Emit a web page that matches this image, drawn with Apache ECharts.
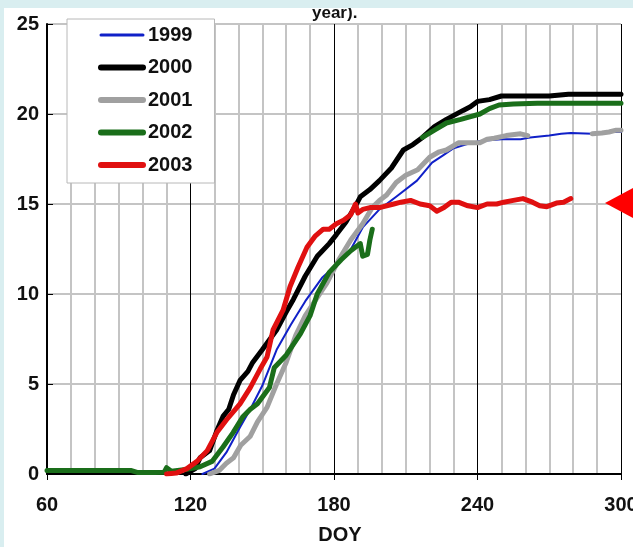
<!DOCTYPE html>
<html>
<head>
<meta charset="utf-8">
<script src="https://cdn.jsdelivr.net/npm/echarts@6/dist/echarts.min.js"></script>
<style>
    html, body {margin: 0; padding: 0; background: #ffffff;}
    #chart-doy {width: 633px; height: 547px;}
</style>
</head>
<body>
<div id="chart-doy"></div>
<script>
// 年份
var years = ['1999', '2000', '2001', '2002', '2003'];
var colors = ['#1020c8', '#000000', '#a0a0a0', '#1a6e1a', '#e01010'];

// 刻度
var xTicks = [60, 120, 180, 240, 300];
var yTicks = [0, 5, 10, 15, 20, 25];

// 1999
var doy1999 = [125, 130, 135, 140.7, 145, 150, 156, 162, 168, 175, 180, 186.7, 192, 199, 206, 214.7, 221, 225.6, 230, 235, 241, 250, 258, 262, 270, 275, 279, 288, 295, 300];
var val1999 = [0, 0.3, 1.2, 2.6, 3.6, 4.9, 6.9, 8.3, 9.6, 10.9, 11.5, 12.4, 13.7, 14.7, 15.4, 16.3, 17.3, 17.7, 18.1, 18.3, 18.5, 18.6, 18.6, 18.7, 18.8, 18.9, 18.95, 18.9, 19.0, 19.0];

// 2000
var doy2000 = [118, 122, 124, 128, 131, 133.6, 136, 138, 140.7, 144, 146, 150, 156, 160, 163, 168, 173, 178, 181, 185, 189, 191, 195, 199, 204, 209, 213, 217, 222, 227, 234, 237, 240, 245, 250, 260, 270, 278, 290, 300];
var val2000 = [0, 0.3, 0.9, 1.3, 2.4, 3.2, 3.6, 4.4, 5.2, 5.7, 6.2, 6.9, 8.0, 9.0, 9.7, 11.0, 12.1, 12.8, 13.3, 14.0, 14.9, 15.4, 15.8, 16.3, 17.0, 18.0, 18.3, 18.7, 19.3, 19.7, 20.2, 20.4, 20.7, 20.8, 21.0, 21.0, 21.0, 21.1, 21.1, 21.1];

// 2001 (270 附近缺测)
var doy2001 = [128, 132, 135, 138, 141, 145, 148, 152, 156, 160, 164, 168, 172, 177, 182, 187, 192, 196, 199, 202, 206, 210, 215, 220, 224, 227, 232, 236, 241, 244, 247, 252, 258, 261, 270, 288, 292, 295, 298, 300];
var val2001 = [0, 0.2, 0.6, 0.9, 1.6, 2.1, 2.9, 3.7, 5.0, 6.2, 7.7, 8.8, 9.6, 10.6, 11.9, 13.0, 13.9, 14.8, 15.2, 15.5, 16.2, 16.6, 16.9, 17.6, 17.9, 18.0, 18.4, 18.4, 18.4, 18.6, 18.65, 18.8, 18.9, 18.8, null, 18.9, 18.95, 19.0, 19.1, 19.1];

// 2002 (200-215 缺测)
var doy2002 = [60, 70, 80, 90, 95, 98, 105, 109, 110, 112, 118, 124, 129, 133.6, 137.8, 142, 145, 148, 153, 155, 160, 166, 170, 173, 178, 183, 187, 191, 192, 194, 195, 196, 205, 217, 222, 227, 233, 241, 245, 249, 255, 265, 280, 300];
var val2002 = [0.2, 0.2, 0.2, 0.2, 0.2, 0.08, 0.08, 0.1, 0.35, 0.15, 0.25, 0.4, 0.7, 1.5, 2.3, 3.2, 3.6, 3.9, 4.8, 5.9, 6.6, 7.8, 8.8, 10.0, 11.2, 11.9, 12.4, 12.8, 12.1, 12.2, 13.0, 13.6, null, 18.7, 19.1, 19.5, 19.7, 20.0, 20.3, 20.5, 20.55, 20.6, 20.6, 20.6];

// 2003
var doy2003 = [110, 114, 118.5, 122.7, 127, 131, 135, 140.7, 145, 149, 152, 154.5, 158.7, 161.6, 165, 168.7, 172, 175.5, 178, 181, 184, 187, 189, 190, 192, 195, 199, 205, 208, 212, 216, 220, 223, 226, 229, 232, 236, 240, 244, 248, 251, 255, 259, 263, 266, 269, 273, 276, 279];
var val2003 = [0, 0.05, 0.3, 0.7, 1.3, 2.3, 3.0, 3.9, 4.8, 5.8, 6.5, 8.0, 9.1, 10.4, 11.5, 12.6, 13.2, 13.6, 13.6, 13.9, 14.1, 14.4, 15.0, 14.5, 14.7, 14.8, 14.8, 15.0, 15.1, 15.2, 15.0, 14.9, 14.6, 14.8, 15.1, 15.1, 14.9, 14.8, 15.0, 15.0, 15.1, 15.2, 15.3, 15.1, 14.9, 14.85, 15.05, 15.1, 15.3];

var allDoy = [doy1999, doy2000, doy2001, doy2002, doy2003];
var allVal = [val1999, val2000, val2001, val2002, val2003];
var widths = [2, 5, 5, 5, 5];

function pairs(xs, ys) {
    var out = [];
    for (var i = 0; i < xs.length; i++) {
        out.push([xs[i], ys[i]]);
    }
    return out;
}

var fontName = '"Liberation Sans", Arial, sans-serif';

var series = [];
var legendData = [];
for (var k = 0; k < years.length; k++) {
    series.push({
        name: years[k],
        type: 'line',
        data: pairs(allDoy[k], allVal[k]),
        showSymbol: false,
        symbol: 'none',
        connectNulls: false,
        animation: false,
        itemStyle: {color: colors[k]},
        lineStyle: {color: colors[k], width: widths[k], join: 'round', cap: 'round'}
    });
    legendData.push({
        name: years[k],
        itemStyle: {opacity: 0},
        lineStyle: {color: colors[k], width: widths[k] + 1}
    });
}

var myChart = echarts.init(document.getElementById('chart-doy'));
var option = {
    animation: false,
    backgroundColor: '#ffffff',
    grid: {left: 47, right: 12, top: 24, bottom: 73, outerBoundsMode: 'none', containLabel: false},
    legend: {
        data: legendData,
        orient: 'vertical',
        left: 67,
        top: 19,
        padding: [6, 22, 8, 31],
        itemGap: 12.5,
        itemWidth: 42,
        itemHeight: 14,
        backgroundColor: '#ffffff',
        borderColor: '#b8b8b8',
        borderWidth: 1,
        borderRadius: 0,
        textStyle: {fontFamily: fontName, fontSize: 20, fontWeight: 'bold', color: '#111111'}
    },
    xAxis: {
        type: 'value',
        min: xTicks[0],
        max: xTicks[xTicks.length - 1],
        interval: 60,
        name: 'DOY',
        nameLocation: 'middle',
        nameGap: 51,
        nameTextStyle: {fontFamily: fontName, fontSize: 20, fontWeight: 'bold', color: '#111111', padding: [0, 0, 0, 12]},
        axisLine: {show: true, lineStyle: {color: '#000000', width: 2}},
        axisTick: {show: true, inside: false, length: 6, lineStyle: {color: '#000000'}},
        axisLabel: {fontFamily: fontName, fontSize: 20, fontWeight: 'bold', color: '#111111', margin: 21},
        splitLine: {show: true, lineStyle: {color: '#000000', width: 1}},
        minorTick: {show: false, splitNumber: 6},
        minorSplitLine: {show: true, lineStyle: {color: '#c4c4c4', width: 2}}
    },
    yAxis: {
        type: 'value',
        min: yTicks[0],
        max: yTicks[yTicks.length - 1],
        interval: 5,
        axisLine: {show: true, lineStyle: {color: '#000000', width: 2}},
        axisTick: {show: true, inside: true, length: 6, lineStyle: {color: '#000000'}},
        axisLabel: {fontFamily: fontName, fontSize: 20, fontWeight: 'bold', color: '#111111', margin: 8},
        splitLine: {show: true, lineStyle: {color: '#c4c4c4', width: 2}}
    },
    graphic: [
        {
            type: 'text',
            left: 312,
            top: 5,
            z: 5,
            style: {text: 'year).', fontFamily: fontName, fontSize: 17, fontWeight: 'bold', fill: '#111111'}
        },
        {
            type: 'rect',
            z: 10,
            shape: {x: 0, y: 0, width: 633, height: 8},
            style: {fill: '#d9eef0'}
        },
        {
            type: 'rect',
            z: 10,
            shape: {x: 0, y: 0, width: 4, height: 547},
            style: {fill: '#d9eef0'}
        },
        {
            type: 'polygon',
            z: 10,
            shape: {points: [[605, 203], [633, 188], [633, 218]]},
            style: {fill: '#ff0000'}
        }
    ],
    series: series
};
myChart.setOption(option);
</script>
</body>
</html>
